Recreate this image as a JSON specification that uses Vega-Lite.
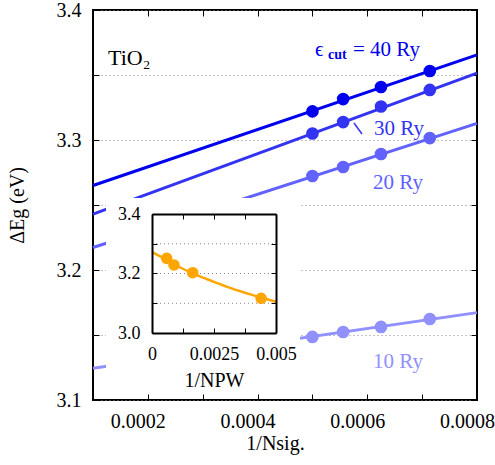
{
  "$schema": "https://vega.github.io/schema/vega-lite/v6.json",
  "width": 384,
  "height": 390,
  "autosize": "none",
  "padding": {"left": 93, "top": 10, "right": 18, "bottom": 65},
  "background": "white",
  "config": {
    "view": {"stroke": "black", "strokeWidth": 2},
    "font": "Liberation Serif, Times New Roman, serif",
    "axis": {
      "labelFont": "Liberation Serif, Times New Roman, serif",
      "titleFont": "Liberation Serif, Times New Roman, serif",
      "labelColor": "black",
      "titleColor": "black",
      "tickColor": "black",
      "domainColor": "black",
      "titleFontWeight": "normal",
      "labelOverlap": false,
      "labelFlush": false,
      "grid": false
    },
    "text": {"font": "Liberation Serif, Times New Roman, serif"}
  },
  "datasets": {
    "fits": [
      {"cut": "40 Ry", "x": 0.0001, "y": 3.2650},
      {"cut": "40 Ry", "x": 0.0008, "y": 3.3655},
      {"cut": "30 Ry", "x": 0.0001, "y": 3.2430},
      {"cut": "30 Ry", "x": 0.0008, "y": 3.3515},
      {"cut": "20 Ry", "x": 0.0001, "y": 3.2173},
      {"cut": "20 Ry", "x": 0.0008, "y": 3.3128},
      {"cut": "10 Ry", "x": 0.0001, "y": 3.1245},
      {"cut": "10 Ry", "x": 0.0008, "y": 3.1672}
    ],
    "points": [
      {"cut": "40 Ry", "x": 0.0005, "y": 3.3220},
      {"cut": "40 Ry", "x": 0.000556, "y": 3.3315},
      {"cut": "40 Ry", "x": 0.000625, "y": 3.3408},
      {"cut": "40 Ry", "x": 0.000714, "y": 3.3531},
      {"cut": "30 Ry", "x": 0.0005, "y": 3.3050},
      {"cut": "30 Ry", "x": 0.000556, "y": 3.3138},
      {"cut": "30 Ry", "x": 0.000625, "y": 3.3258},
      {"cut": "30 Ry", "x": 0.000714, "y": 3.3385},
      {"cut": "20 Ry", "x": 0.0005, "y": 3.2723},
      {"cut": "20 Ry", "x": 0.000556, "y": 3.2792},
      {"cut": "20 Ry", "x": 0.000625, "y": 3.2892},
      {"cut": "20 Ry", "x": 0.000714, "y": 3.3015},
      {"cut": "10 Ry", "x": 0.0005, "y": 3.1485},
      {"cut": "10 Ry", "x": 0.000556, "y": 3.1523},
      {"cut": "10 Ry", "x": 0.000625, "y": 3.1562},
      {"cut": "10 Ry", "x": 0.000714, "y": 3.1623}
    ],
    "labels": [
      {"cut": "40 Ry", "label": "ϵ", "x": 0.0005047, "y": 3.3646},
      {"cut": "40 Ry", "label": "= 40 Ry", "x": 0.000574, "y": 3.3646},
      {"cut": "30 Ry", "label": "30 Ry", "x": 0.0006122, "y": 3.3038},
      {"cut": "20 Ry", "label": "20 Ry", "x": 0.0006104, "y": 3.2623},
      {"cut": "10 Ry", "label": "10 Ry", "x": 0.0006104, "y": 3.1246}
    ],
    "sublabels": [
      {"cut": "40 Ry", "label": "cut", "x": 0.0005284, "y": 3.3623}
    ],
    "leader": [
      {"cut": "30 Ry", "x": 0.0005758, "y": 3.3131, "x2": 0.0005903, "y2": 3.3046}
    ],
    "material": [
      {"label": "TiO₂", "x": 0.0001273, "y": 3.3577}
    ],
    "pwcurve": [
      {"x": 0.0, "y": 3.272},
      {"x": 0.0005, "y": 3.250},
      {"x": 0.001, "y": 3.226},
      {"x": 0.0015, "y": 3.206},
      {"x": 0.002, "y": 3.188},
      {"x": 0.0025, "y": 3.172},
      {"x": 0.003, "y": 3.156},
      {"x": 0.0035, "y": 3.142},
      {"x": 0.004, "y": 3.129},
      {"x": 0.0045, "y": 3.117},
      {"x": 0.005, "y": 3.105}
    ],
    "pwpoints": [
      {"x": 0.000593, "y": 3.251},
      {"x": 0.000887, "y": 3.2286},
      {"x": 0.00164, "y": 3.2027},
      {"x": 0.0044, "y": 3.1166}
    ],
    "insetbg": [
      {"x": -0.001855, "x2": 0.005968, "y": 3.4538, "y2": 2.825}
    ],
    "insetgrid": [
      {"y": 3.1}, {"y": 3.2}, {"y": 3.3}
    ]
  },
  "layer": [
    {
      "layer": [
        {
          "data": {"name": "fits"},
          "mark": {"type": "line", "strokeWidth": 3},
          "encoding": {
            "x": {
              "field": "x", "type": "quantitative",
              "scale": {"domain": [0.0001, 0.0008], "nice": false, "zero": false},
              "axis": {
                "orient": "bottom",
                "values": [0.0001, 0.0002, 0.0003, 0.0004, 0.0005, 0.0006, 0.0007, 0.0008],
                "labelExpr": "round(datum.value*10000) % 2 == 0 ? format(datum.value, '.4f') : ''",
                "labelFontSize": 20,
                "labelOffset": -10,
                "labelPadding": 17,
                "tickSize": -6,
                "tickWidth": 1,
                "domain": false,
                "title": "1/Nsig.",
                "titleFontSize": 20,
                "titlePadding": 2,
                "titleX": 182,
                "zindex": 0
              }
            },
            "y": {
              "field": "y", "type": "quantitative",
              "scale": {"domain": [3.1, 3.4], "nice": false, "zero": false},
              "axis": {
                "orient": "left",
                "values": [3.1, 3.15, 3.2, 3.25, 3.3, 3.35, 3.4],
                "labelExpr": "round(datum.value*100) % 10 == 0 ? format(datum.value, '.1f') : ''",
                "labelFontSize": 20,
                "labelPadding": 18,
                "tickSize": -6,
                "tickWidth": 1,
                "domain": false,
                "grid": true,
                "gridColor": "#888888",
                "gridDash": [1, 3],
                "gridWidth": 1,
                "title": "ΔEg (eV)",
                "titleFontSize": 20,
                "titlePadding": 29,
                "zindex": 0
              }
            },
            "color": {
              "field": "cut", "type": "nominal",
              "scale": {"domain": ["40 Ry", "30 Ry", "20 Ry", "10 Ry"], "range": ["#0000ee", "#3333f2", "#6262ff", "#9090ff"]},
              "legend": null
            }
          }
        },
        {
          "data": {"name": "points"},
          "mark": {"type": "circle", "size": 160, "opacity": 1},
          "encoding": {
            "x": {
              "field": "x", "type": "quantitative",
              "axis": {
                "orient": "top",
                "values": [0.0001, 0.0002, 0.0003, 0.0004, 0.0005, 0.0006, 0.0007, 0.0008],
                "labels": false,
                "tickSize": -6,
                "tickWidth": 1,
                "domain": false,
                "title": null,
                "zindex": 0
              }
            },
            "y": {
              "field": "y", "type": "quantitative",
              "axis": {
                "orient": "right",
                "values": [3.1, 3.15, 3.2, 3.25, 3.3, 3.35, 3.4],
                "labels": false,
                "tickSize": -6,
                "tickWidth": 1,
                "domain": false,
                "title": null,
                "zindex": 0
              }
            },
            "color": {"field": "cut", "type": "nominal", "legend": null}
          }
        },
        {
          "data": {"name": "leader"},
          "mark": {"type": "rule", "strokeWidth": 1.5},
          "encoding": {
            "x": {"field": "x", "type": "quantitative", "axis": null},
            "y": {"field": "y", "type": "quantitative", "axis": null},
            "x2": {"field": "x2"},
            "y2": {"field": "y2"},
            "color": {"field": "cut", "type": "nominal", "legend": null}
          }
        },
        {
          "data": {"name": "labels"},
          "mark": {"type": "text", "align": "left", "baseline": "alphabetic", "fontSize": 21},
          "encoding": {
            "x": {"field": "x", "type": "quantitative", "axis": null},
            "y": {"field": "y", "type": "quantitative", "axis": null},
            "text": {"field": "label"},
            "color": {"field": "cut", "type": "nominal", "legend": null}
          }
        },
        {
          "data": {"name": "sublabels"},
          "mark": {"type": "text", "align": "left", "baseline": "alphabetic", "fontSize": 14, "fontWeight": "bold"},
          "encoding": {
            "x": {"field": "x", "type": "quantitative", "axis": null},
            "y": {"field": "y", "type": "quantitative", "axis": null},
            "text": {"field": "label"},
            "color": {"field": "cut", "type": "nominal", "legend": null}
          }
        },
        {
          "data": {"name": "material"},
          "mark": {"type": "text", "align": "left", "baseline": "alphabetic", "fontSize": 22, "color": "black"},
          "encoding": {
            "x": {"field": "x", "type": "quantitative", "axis": null},
            "y": {"field": "y", "type": "quantitative", "axis": null},
            "text": {"field": "label"}
          }
        }
      ],
      "resolve": {"axis": {"x": "independent", "y": "independent"}}
    },
    {
      "layer": [
        {
          "data": {"name": "insetbg"},
          "mark": {"type": "rect", "color": "white", "opacity": 1},
          "encoding": {
            "x": {"field": "x", "type": "quantitative", "scale": {"domain": [0, 0.005], "range": [59, 183], "nice": false, "zero": false}, "axis": null},
            "x2": {"field": "x2"},
            "y": {"field": "y", "type": "quantitative", "scale": {"domain": [3.0, 3.4], "range": [323, 204], "nice": false, "zero": false}, "axis": null},
            "y2": {"field": "y2"}
          }
        },
        {
          "data": {"name": "insetgrid"},
          "mark": {"type": "rule", "color": "#888888", "strokeDash": [1, 3], "strokeWidth": 1},
          "encoding": {
            "x": {"datum": 0, "type": "quantitative", "axis": null},
            "x2": {"datum": 0.005},
            "y": {"field": "y", "type": "quantitative", "axis": null}
          }
        },
        {
          "data": {"name": "pwcurve"},
          "mark": {"type": "line", "color": "#ffa500", "strokeWidth": 2.5, "interpolate": "monotone"},
          "encoding": {
            "x": {
              "field": "x", "type": "quantitative",
              "axis": {
                "orient": "bottom",
                "offset": -67,
                "values": [0, 0.00125, 0.0025, 0.00375, 0.005],
                "labelExpr": "round(datum.value*800) % 2 == 0 ? format(datum.value, '.4~f') : ''",
                "labelFontSize": 18,
                "labelPadding": 17,
                "tickSize": -5,
                "tickWidth": 1,
                "domain": true,
                "domainWidth": 2,
                "title": "1/NPW",
                "titleFontSize": 20,
                "titlePadding": 7,
                "zindex": 1
              }
            },
            "y": {
              "field": "y", "type": "quantitative",
              "axis": {
                "orient": "left",
                "offset": -59,
                "values": [3.0, 3.1, 3.2, 3.3, 3.4],
                "labelExpr": "round(datum.value*10) % 2 == 0 ? format(datum.value, '.1f') : ''",
                "labelFontSize": 18,
                "labelPadding": 17,
                "tickSize": -5,
                "tickWidth": 1,
                "domain": true,
                "domainWidth": 2,
                "title": null,
                "zindex": 1
              }
            }
          }
        },
        {
          "data": {"name": "pwpoints"},
          "mark": {"type": "circle", "size": 135, "color": "#ffa500", "opacity": 1},
          "encoding": {
            "x": {
              "field": "x", "type": "quantitative",
              "axis": {
                "orient": "top",
                "offset": -204,
                "values": [0, 0.00125, 0.0025, 0.00375, 0.005],
                "labels": false,
                "tickSize": -5,
                "tickWidth": 1,
                "domain": true,
                "domainWidth": 2,
                "title": null,
                "zindex": 1
              }
            },
            "y": {
              "field": "y", "type": "quantitative",
              "axis": {
                "orient": "right",
                "offset": -201,
                "values": [3.0, 3.1, 3.2, 3.3, 3.4],
                "labels": false,
                "tickSize": -5,
                "tickWidth": 1,
                "domain": true,
                "domainWidth": 2,
                "title": null,
                "zindex": 1
              }
            }
          }
        }
      ],
      "resolve": {"axis": {"x": "independent", "y": "independent"}}
    }
  ],
  "resolve": {"scale": {"x": "independent", "y": "independent", "color": "independent"}}
}
